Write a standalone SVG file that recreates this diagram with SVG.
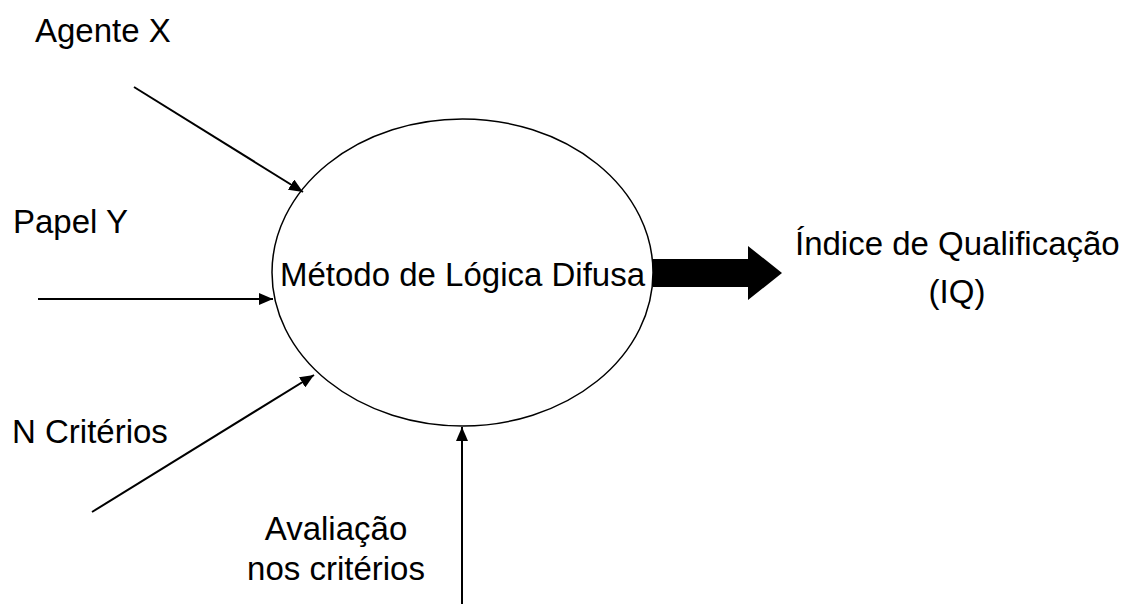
<svg xmlns="http://www.w3.org/2000/svg" width="1137" height="615" viewBox="0 0 1137 615">
<style>
text{font-family:"Liberation Sans",Arial,sans-serif;font-size:33px;fill:#000}
.c{stroke:#000;stroke-width:2;fill:none}
</style>
<defs>
<marker id="ah" markerUnits="userSpaceOnUse" markerWidth="14" markerHeight="12" viewBox="0 0 14 12" refX="14" refY="6" orient="auto">
<path d="M0,0 L14,6 L0,12 Z" fill="#000"/>
</marker>
</defs>
<rect width="1137" height="615" fill="#fff"/>
<g id="agente"><text x="35" y="42">Agente X</text></g>
<g id="papel"><text x="13" y="233">Papel Y</text></g>
<g id="criterios"><text x="12" y="443">N Critérios</text></g>
<g id="avaliacao"><text x="336" y="540" text-anchor="middle">Avaliação</text><text x="336" y="580" text-anchor="middle">nos critérios</text></g>
<g id="metodo"><ellipse cx="462.5" cy="272.5" rx="190.5" ry="153.5" fill="#fff" stroke="#000" stroke-width="1.5"/><text x="462.5" y="286" text-anchor="middle">Método de Lógica Difusa</text></g>
<g id="indice"><text x="795" y="255">Índice de Qualificação</text><text x="957" y="303" text-anchor="middle">(IQ)</text></g>
<g id="connectors">
<line class="c" x1="134" y1="87" x2="303" y2="192" marker-end="url(#ah)"/>
<line class="c" x1="38" y1="299" x2="273" y2="299" marker-end="url(#ah)"/>
<line class="c" x1="92" y1="512" x2="314" y2="375" marker-end="url(#ah)"/>
<line class="c" x1="462" y1="604" x2="462" y2="427" marker-end="url(#ah)"/>
<polygon points="653,259 748,259 748,246 782,273 748,300 748,287 653,287" fill="#000"/>
</g>
</svg>
